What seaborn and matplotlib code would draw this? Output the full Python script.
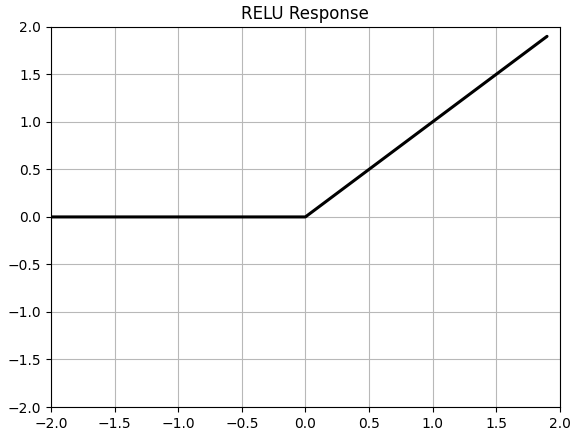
import pandas as pd
import seaborn as sns
import matplotlib
matplotlib.use('Agg')
import matplotlib.pyplot as plt

# puntos de quiebre de la respuesta ReLU
x_vals = [-2.0, 0.0, 1.9]
y_vals = [0.0, 0.0, 1.9]
ticks = [-2.0, -1.5, -1.0, -0.5, 0.0, 0.5, 1.0, 1.5, 2.0]

df = pd.DataFrame({'x': x_vals, 'y': y_vals})

sns.set_style('ticks')
plt.rcParams['font.family'] = ['DejaVu Sans']
plt.rcParams['text.color'] = 'black'
plt.rcParams['xtick.color'] = 'black'
plt.rcParams['ytick.color'] = 'black'

fig, ax = plt.subplots(figsize=(5.7, 4.33), dpi=100)
fig.subplots_adjust(left=0.0895, right=0.982, top=0.938, bottom=0.06)

sns.lineplot(data=df, x='x', y='y', color='black', linewidth=2.2, ax=ax)

ax.set_xlim(-2, 2)
ax.set_ylim(-2, 2)
ax.set_xticks(ticks)
ax.set_yticks(ticks)
ax.grid(True, color='#b8b8b8', linewidth=0.8)
ax.set_xlabel('')
ax.set_ylabel('')
ax.set_title('RELU Response', fontsize=12, color='black')
for s in ax.spines.values():
    s.set_color('black')
    s.set_linewidth(0.8)
ax.tick_params(colors='black', labelcolor='black', labelsize=10, direction='out', length=3.5, width=0.8)

plt.savefig('out.png', dpi=100)
